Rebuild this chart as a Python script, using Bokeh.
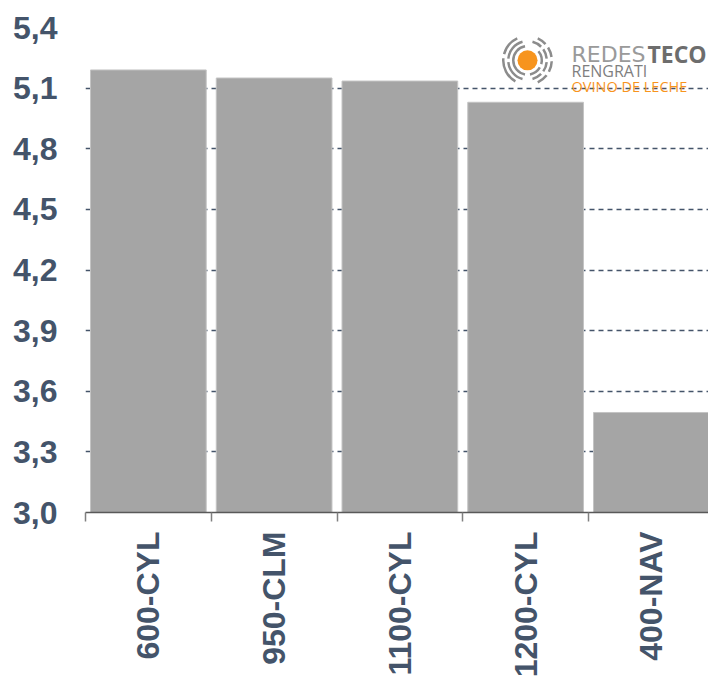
import math
from bokeh.plotting import figure
from bokeh.models import Range1d, FixedTicker, Label
from bokeh.embed import file_html
from bokeh.resources import INLINE

# ---- data ----
categories = ["600-CYL", "950-CLM", "1100-CYL", "1200-CYL", "400-NAV"]
values = [5.19, 5.15, 5.135, 5.03, 3.495]
y_ticks = [3.0, 3.3, 3.6, 3.9, 4.2, 4.5, 4.8, 5.1, 5.4]
y_labels = ["3,0", "3,3", "3,6", "3,9", "4,2", "4,5", "4,8", "5,1", "5,4"]

TEXT = "#44546a"
BAR = "#a5a5a5"

W, H = 708, 680
LEFT, TOP, BOTTOM = 85, 27, 166
CAT_PX = 125.75
frame_w = W - LEFT
frame_h = H - TOP - BOTTOM
x_end = frame_w / CAT_PX

p = figure(width=W, height=H, output_backend="svg", toolbar_location=None,
           x_range=Range1d(0, x_end), y_range=Range1d(3.0, 5.4),
           min_border_left=LEFT, min_border_top=TOP, min_border_bottom=BOTTOM,
           min_border_right=0)
p.outline_line_color = None
p.background_fill_color = "white"
p.border_fill_color = "white"

centers = [i + 0.5 for i in range(len(categories))]
bounds = [float(i) for i in range(len(categories) + 1)]

p.vbar(x=centers, top=values, bottom=3.0, width=0.92,
       fill_color=BAR, line_color="#c4c4c4", line_width=1)

# x axis
xa = p.xaxis[0]
xa.ticker = FixedTicker(ticks=centers, minor_ticks=bounds)
xa.major_label_overrides = {c: n for c, n in zip(centers, categories)}
xa.major_label_orientation = 1.5707963
xa.major_label_text_font = "Liberation Sans"
xa.major_label_text_font_style = "bold"
xa.major_label_text_font_size = "32px"
xa.major_label_text_color = TEXT
xa.major_label_standoff = 10
xa.major_tick_out = 0
xa.major_tick_in = 0
xa.minor_tick_out = 9
xa.minor_tick_in = 0
xa.minor_tick_line_color = "#808080"
xa.minor_tick_line_width = 1.5
xa.axis_line_color = "#595959"
xa.axis_line_width = 1.5

# y axis
ya = p.yaxis[0]
ya.ticker = FixedTicker(ticks=y_ticks, minor_ticks=[])
ya.major_label_overrides = {t: l for t, l in zip(y_ticks, y_labels)}
ya.major_label_text_font = "Liberation Sans"
ya.major_label_text_font_style = "bold"
ya.major_label_text_font_size = "32px"
ya.major_label_text_color = TEXT
ya.major_label_standoff = 28
ya.major_tick_out = 0
ya.major_tick_in = 0
ya.minor_tick_out = 0
ya.minor_tick_in = 0
ya.axis_line_color = None
ya.major_tick_line_color = None
ya.minor_tick_line_color = None

p.xgrid.grid_line_color = None
p.ygrid.ticker = FixedTicker(ticks=y_ticks[1:])
p.ygrid.grid_line_color = TEXT
p.ygrid.grid_line_dash = "5 4"
p.ygrid.grid_line_width = 1.3

# ---- logo (decoration, placed in pixel terms converted to data) ----
def px2x(sx):
    return (sx - LEFT) / CAT_PX

def px2y(sy):
    return 5.4 - (sy - TOP) * 2.4 / frame_h

cx, cy = px2x(527), px2y(60)
p.circle(x=[cx], y=[cy], radius=10, radius_units="screen",
         fill_color="#f7941d", line_color=None)
rings = [(13.0, 15.5), (18.0, 20.5), (23.0, 25.5)]
segs = [
    [(100, 260), (280, 330), (345, 40)],
    [(105, 175), (185, 255), (285, 315), (325, 355), (5, 35), (45, 75)],
    [(115, 165), (175, 240), (295, 322), (332, 358), (8, 32), (42, 65)],
]
for (ri, ro), ss in zip(rings, segs):
    for a0, a1 in ss:
        p.annular_wedge(x=[cx], y=[cy], inner_radius=ri, outer_radius=ro,
                        inner_radius_units="screen", outer_radius_units="screen",
                        start_angle=math.radians(a0), end_angle=math.radians(a1),
                        fill_color="#8c8c8c", line_color=None)

p.add_layout(Label(x=px2x(571), y=px2y(54), text="REDES", text_font="DejaVu Sans",
                   text_font_size="22px", text_color="#9a9a9a",
                   text_baseline="alphabetic"))
p.add_layout(Label(x=px2x(647), y=px2y(54), text="TECO", text_font="Open Sans",
                   text_font_style="bold", text_font_size="23px",
                   text_color="#6d6d6d", text_baseline="alphabetic"))
p.add_layout(Label(x=px2x(571), y=px2y(71), text="RENGRATI", text_font="Open Sans",
                   text_font_size="16px", text_color="#7f7f7f",
                   text_baseline="alphabetic"))
p.add_layout(Label(x=px2x(571), y=px2y(86), text="OVINO DE LECHE", text_font="Open Sans",
                   text_font_size="14.5px", text_color="#f7941d",
                   text_baseline="alphabetic"))

open("out.html", "w").write(file_html(p, INLINE))
